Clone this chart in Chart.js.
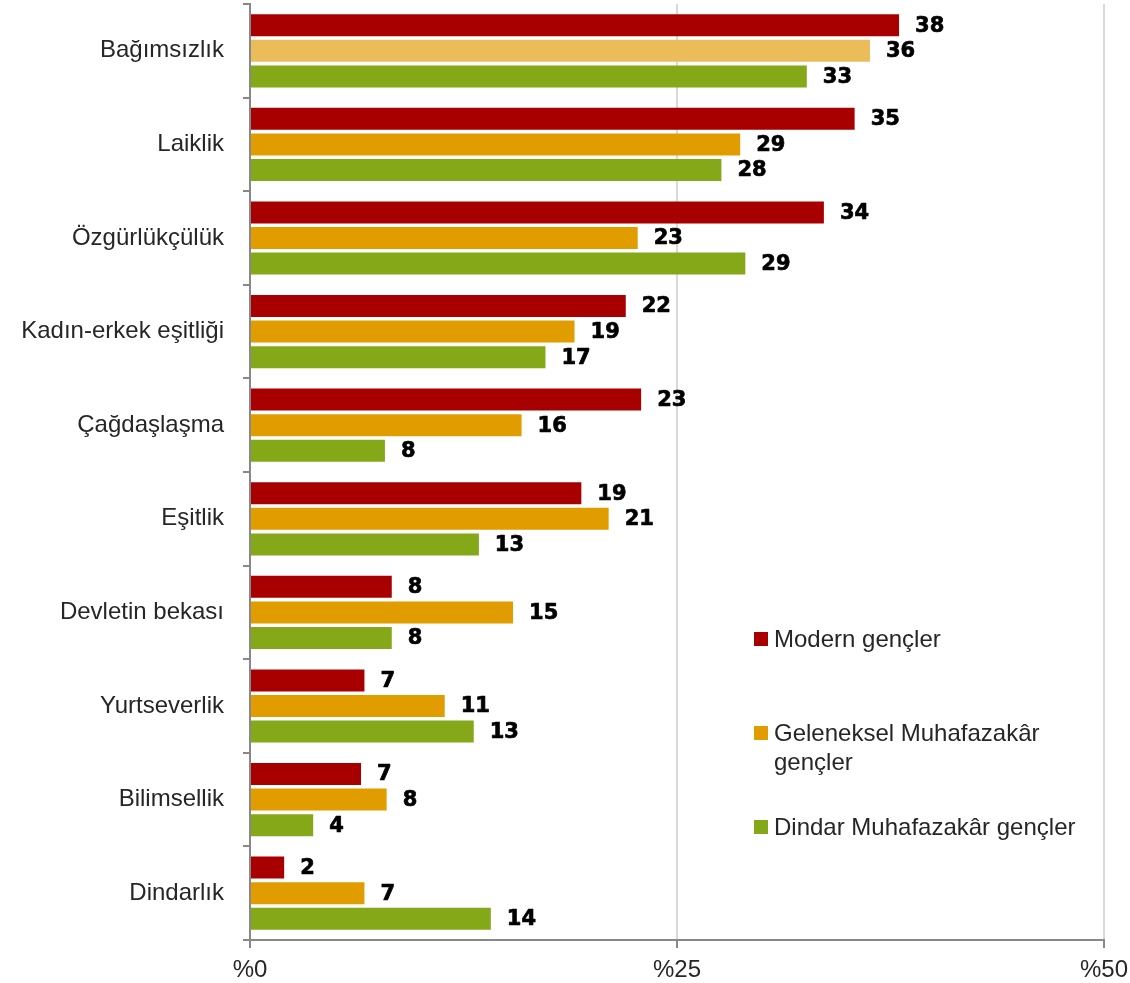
<!DOCTYPE html>
<html>
<head>
<meta charset="utf-8">
<script src="https://cdn.jsdelivr.net/npm/chart.js@4/dist/chart.umd.min.js"></script>
<style>
html,body{margin:0;padding:0;background:#fff;}
#wrap{width:1130px;height:983px;position:relative;}
</style>
</head>
<body>
<div id="wrap"><canvas id="c" width="1130" height="983"></canvas></div>
<script>
const categories = ["Bağımsızlık","Laiklik","Özgürlükçülük","Kadın-erkek eşitliği","Çağdaşlaşma","Eşitlik","Devletin bekası","Yurtseverlik","Bilimsellik","Dindarlık"];
const seriesNames = ["Modern gençler","Geleneksel Muhafazakâr gençler","Dindar Muhafazakâr gençler"];
const modern     = [38.0, 35.4, 33.6, 22.0, 22.9, 19.4, 8.3, 6.7, 6.5, 2.0];
const geleneksel = [36.3, 28.7, 22.7, 19.0, 15.9, 21.0, 15.4, 11.4, 8.0, 6.7];
const dindar     = [32.6, 27.6, 29.0, 17.3, 7.9, 13.4, 8.3, 13.1, 3.7, 14.1];
const modernLabels     = [38, 35, 34, 22, 23, 19, 8, 7, 7, 2];
const gelenekselLabels = [36, 29, 23, 19, 16, 21, 15, 11, 8, 7];
const dindarLabels     = [33, 28, 29, 17, 8, 13, 8, 13, 4, 14];
const xTicks = [0, 25, 50];

const RED = '#A80000', ORANGE = '#E19C00', ORANGE_LIGHT = '#EBBC5A', GREEN = '#84A817';
const LABEL_FONT = '"Liberation Sans", Arial, sans-serif';

const valueLabels = {
  id: 'valueLabels',
  afterDatasetsDraw(chart) {
    const ctx = chart.ctx;
    ctx.save();
    ctx.font = 'bold 21px "DejaVu Sans", sans-serif';
    ctx.fillStyle = '#000';
    ctx.strokeStyle = '#000';
    ctx.lineWidth = 0.7;
    ctx.lineJoin = 'round';
    ctx.textAlign = 'left';
    ctx.textBaseline = 'middle';
    chart.data.datasets.forEach((ds, di) => {
      const meta = chart.getDatasetMeta(di);
      meta.data.forEach((el, i) => {
        const t = String(ds.valueLabels[i]);
        ctx.strokeText(t, el.x + 16, el.y + 1);
        ctx.fillText(t, el.x + 16, el.y + 1);
      });
    });
    ctx.restore();
  }
};

const innerLegend = {
  id: 'innerLegend',
  afterDraw(chart, args, opts) {
    const ctx = chart.ctx;
    ctx.save();
    ctx.font = '24px ' + LABEL_FONT;
    ctx.textBaseline = 'middle';
    ctx.textAlign = 'left';
    chart.data.datasets.forEach((ds, di) => {
      const cy = opts.centers[di];
      ctx.fillStyle = ds.legendColor;
      ctx.fillRect(opts.x, cy - 7, 14, 14);
      ctx.fillStyle = '#262626';
      const words = ds.label.split(' ');
      let lines = [], cur = '';
      words.forEach(w => {
        const t = cur ? cur + ' ' + w : w;
        if (ctx.measureText(t).width > opts.maxWidth && cur) { lines.push(cur); cur = w; }
        else cur = t;
      });
      lines.push(cur);
      lines.forEach((ln, li) => ctx.fillText(ln, opts.x + 20, cy + 1 + li * opts.lineHeight));
    });
    ctx.restore();
  }
};

new Chart(document.getElementById('c'), {
  type: 'bar',
  data: {
    labels: categories,
    datasets: [
      { label: seriesNames[0], data: modern, valueLabels: modernLabels, backgroundColor: RED, legendColor: RED },
      { label: seriesNames[1], data: geleneksel, valueLabels: gelenekselLabels,
        backgroundColor: geleneksel.map((v, i) => i === 0 ? ORANGE_LIGHT : ORANGE), legendColor: ORANGE },
      { label: seriesNames[2], data: dindar, valueLabels: dindarLabels, backgroundColor: GREEN, legendColor: GREEN }
    ]
  },
  options: {
    indexAxis: 'y',
    responsive: false,
    animation: false,
    devicePixelRatio: 1,
    categoryPercentage: 0.82,
    barPercentage: 0.86,
    layout: { padding: { top: 4, right: 26, left: 0, bottom: 0 } },
    plugins: {
      legend: { display: false },
      tooltip: { enabled: false },
      innerLegend: { x: 754, centers: [639, 733, 827], maxWidth: 330, lineHeight: 29 }
    },
    scales: {
      x: {
        min: 0, max: 50,
        afterBuildTicks: s => { s.ticks = xTicks.map(v => ({ value: v })); },
        afterFit: s => { s.height = 43; s.paddingLeft = 0; s.paddingRight = 0; },
        border: { display: true, color: '#888888', width: 2 },
        grid: { color: '#D9D9D9', lineWidth: 2, tickColor: '#888888', tickLength: 8, drawTicks: true },
        ticks: {
          callback: v => '%' + v,
          font: { family: LABEL_FONT, size: 24 },
          color: '#262626',
          padding: 8,
          maxRotation: 0
        }
      },
      y: {
        afterFit: s => { s.width = 250; s.paddingTop = 0; s.paddingBottom = 0; },
        border: { display: true, color: '#888888', width: 2 },
        grid: { display: true, drawOnChartArea: false, offset: true, tickColor: '#888888', tickLength: 7, lineWidth: 2 },
        ticks: {
          font: { family: LABEL_FONT, size: 24 },
          color: '#262626',
          padding: 19
        }
      }
    }
  },
  plugins: [valueLabels, innerLegend]
});
</script>
</body>
</html>
